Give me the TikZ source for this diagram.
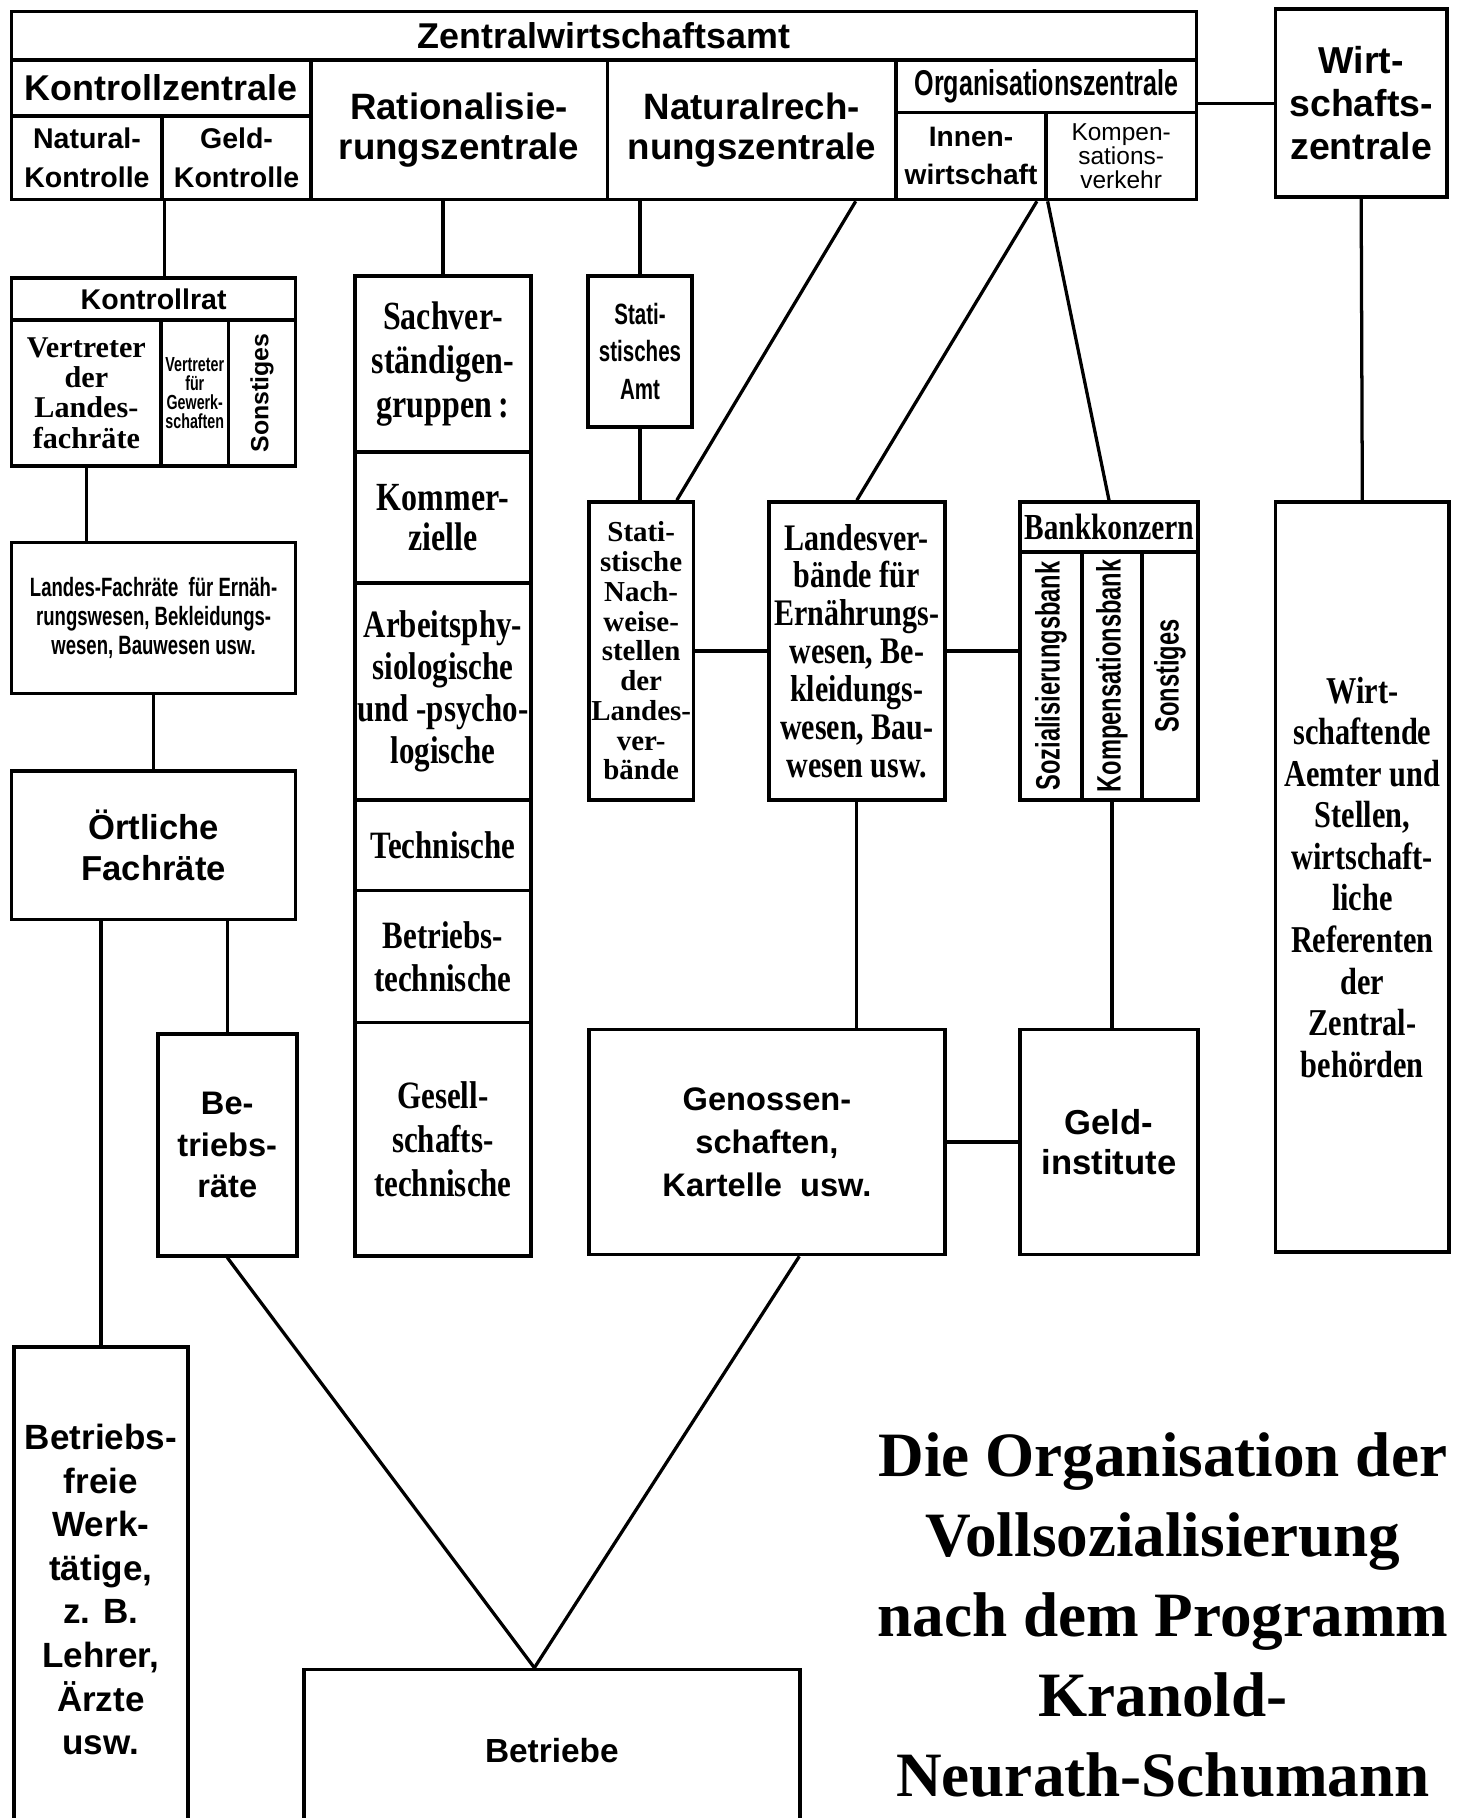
\documentclass[tikz,border=0pt]{standalone}
\usepackage{fontspec}
\usepackage{graphicx}
\setmainfont{Liberation Serif}
\newfontfamily\grot{Liberation Sans}
\newfontfamily\narrow[FakeStretch=0.7]{Liberation Sans}
\newfontfamily\serifc[FakeStretch=0.8]{Liberation Serif}
\usetikzlibrary{calc, positioning}
\newcommand{\setfs}[2]{\fontsize{#1}{#2}\selectfont}
\tikzset{
  cell/.style={draw, line width=0.9pt, inner sep=0pt, align=center},
  sz/.style 2 args={minimum width=#1mm, minimum height=#2mm},
  link/.style={line width=0.8pt},
  gr/.style 2 args={font=\grot\bfseries\setfs{#1}{#2}},
  nr/.style 2 args={font=\narrow\bfseries\setfs{#1}{#2}},
  sr/.style 2 args={font=\serifc\bfseries\setfs{#1}{#2}},
}

\begin{document}
\begin{tikzpicture}[x=0.1mm, y=-0.1mm]
    \useasboundingbox (0,0) rectangle (1258,1568);
    \fill[white] (0,0) rectangle (1258,1568);

    % Zentralwirtschaftsamt
    \node[cell, sz={102.2}{4.2}, gr={8.8}{10}] (zwa) at (521,31) {Zentralwirtschaftsamt};
    \node[cell, sz={25.8}{4.8}, gr={8.8}{10}] (kz) at (139,76) {Kontrollzentrale};
    \node[cell, sz={13}{7.2}, gr={7}{9.4}] (natk) at (75,136) {Natural-\\Kontrolle};
    \node[cell, sz={12.8}{7.2}, gr={7}{9.4}] (geldk) at (204,136) {Geld-\\Kontrolle};
    \node[cell, sz={25.6}{12}, gr={9}{9.7}] (rat) at (396,112) {Rationalisie-\\rungszentrale};
    \node[cell, sz={24.9}{12}, gr={9}{9.7}] (nat) at (648.5,112) {Naturalrech-\\nungszentrale};
    \node[cell, sz={25.9}{4.5}, nr={8.8}{10}] (orgz) at (902.5,74.5) {Organisationszentrale};
    \node[cell, sz={12.9}{7.5}, gr={6.9}{9.3}] (innen) at (837.5,134.5) {Innen-\\wirtschaft};
    \node[cell, sz={13}{7.5}, font=\grot\setfs{6}{5.9}] (komp) at (967,134.5) {Kompen-\\sations-\\verkehr};
    \node[cell, sz={14.8}{16.2}, gr={9.2}{10.5}] (wz) at (1174,89) {Wirt-\\schafts-\\zentrale};

    % Kontrollrat und Fachraete
    \node[cell, sz={24.5}{3.6}, gr={7}{8}] (krat) at (132.5,258) {Kontrollrat};
    \node[cell, sz={12.9}{12.6}, font=\bfseries\setfs{7.4}{7.4}] (kr1) at (74.5,339) {Vertreter\\der\\Landes-\\fachräte};
    \node[cell, sz={5.8}{12.6}, nr={5}{4.6}] (kr2) at (168,339) {Vertreter\\für\\Gewerk-\\schaften};
    \node[cell, sz={5.8}{12.6}, gr={6.1}{7}] (kr3) at (226,339) {\rotatebox{90}{Sonstiges}};
    \node[cell, sz={24.5}{13}, nr={6.5}{7.1}] (lfr) at (132.5,533) {Landes-Fachräte\ \ für Ernäh-\\rungswesen, Bekleidungs-\\wesen, Bauwesen usw.};
    \node[cell, sz={24.5}{12.8}, gr={8.5}{10}] (ort) at (132.5,729) {Örtliche\\Fachräte};
    \node[cell, sz={12}{19.1}, gr={8}{10.2}] (br) at (196,987.5) {Be-\\triebs-\\räte};
    \node[cell, sz={15}{41.8}, gr={8.6}{10.7}] (bfw) at (87,1371) {Betriebs-\\freie\\Werk-\\tätige,\\z. B.\\Lehrer,\\Ärzte\\usw.};

    % Sachverstaendigengruppen
    \node[cell, sz={15.2}{15.2}, sr={9.8}{10.8}] (sv1) at (382,314) {Sachver-\\ständigen-\\gruppen\,:};
    \node[cell, sz={15.2}{11.3}, sr={9.8}{10}] (sv2) at (382,446.5) {Kommer-\\zielle};
    \node[cell, sz={15.2}{18.7}, sr={9.5}{10.3}] (sv3) at (382,596.5) {Arbeitsphy-\\siologische\\und -psycho-\\logische};
    \node[cell, sz={15.2}{7.8}, sr={9.5}{10.5}] (sv4) at (382,729) {Technische};
    \node[cell, sz={15.2}{11.4}, sr={9.5}{10.5}] (sv5) at (382,825) {Betriebs-\\technische};
    \node[cell, sz={15.2}{20.1}, sr={9.5}{10.7}] (sv6) at (382,982.5) {Gesell-\\schafts-\\technische};

    % Statistik, Landesverbaende, Banken
    \node[cell, sz={9}{13}, nr={7.2}{9.2}] (samt) at (552,303) {Stati-\\stisches\\Amt};
    \node[cell, sz={9}{25.7}, font=\bfseries\setfs{7.1}{7.3}] (snw) at (553,561.5) {Stati-\\stische\\Nach-\\weise-\\stellen\\der\\Landes-\\ver-\\bände};
    \node[cell, sz={15.2}{25.7}, sr={9.2}{9.3}] (lv) at (739,561.5) {Landesver-\\bände für\\Ernährungs-\\wesen, Be-\\kleidungs-\\wesen, Bau-\\wesen usw.};
    \node[cell, sz={15.3}{4.3}, sr={9}{10}] (bk) at (956.5,454.5) {Bankkonzern};
    \node[cell, sz={5.3}{21.4}, nr={8.3}{9}] (bk1) at (906.5,583) {\rotatebox{90}{Sozialisierungsbank}};
    \node[cell, sz={5.2}{21.4}, nr={8.3}{9}] (bk2) at (959,583) {\rotatebox{90}{Kompensationsbank}};
    \node[cell, sz={4.8}{21.4}, nr={8.3}{9}] (bk3) at (1009,583) {\rotatebox{90}{Sonstiges}};
    \node[cell, sz={30.7}{19.4}, gr={8}{10.5}] (gen) at (661.5,985) {Genossen-\\schaften,\\Kartelle\ \ usw.};
    \node[cell, sz={15.3}{19.4}, gr={8.5}{10}] (geld) at (956.5,985) {Geld-\\institute};
    \node[cell, sz={15}{64.7}, sr={9.3}{10.2}] (wae) at (1175,756.5) {Wirt-\\schaftende\\Aemter und\\Stellen,\\wirtschaft-\\liche\\Referenten\\der\\Zentral-\\behörden};
    \node[cell, sz={42.8}{14}, gr={8.2}{10}] (betr) at (476,1510) {Betriebe};

    \node[font=\bfseries\setfs{15.5}{19.6}, align=center] (titel) at (1003,1393) {Die Organisation der\\Vollsozialisierung\\nach dem Programm\\Kranold-\\Neurath-Schumann};

    % Verbindungen
    \draw[link] (wz.west -| zwa.east) -- (wz.west);
    \draw[link] (natk.south east) -- (natk.south east |- krat.north);
    \draw[link] (sv1.north |- rat.south) -- (sv1.north);
    \draw[link] (samt.north |- nat.south) -- (samt.north);
    \draw[link] ($(nat.south west)!0.855!(nat.south east)$) -- ($(snw.north west)!0.83!(snw.north east)$);
    \draw[link] ($(innen.south west)!0.93!(innen.south east)$) -- (lv.north);
    \draw[link] (innen.south east) -- (bk.north);
    \draw[link] (wz.south) -- (wae.north);
    \draw[link] (kr1.south) -- (kr1.south |- lfr.north);
    \draw[link] (lfr.south) -- (ort.north);
    \draw[link] (bfw.north |- ort.south) -- (bfw.north);
    \draw[link] (br.north |- ort.south) -- (br.north);
    \draw[link] (samt.south) -- (samt.south |- snw.north);
    \draw[link] (snw.east) -- (snw.east -| lv.west);
    \draw[link] (lv.east) -- (lv.east -| bk1.west);
    \draw[link] (lv.south) -- (lv.south |- gen.north);
    \draw[link] (bk2.south) -- (bk2.south |- geld.north);
    \draw[link] (gen.east) -- (gen.east -| geld.west);
    \coordinate (spitze) at ($(betr.north west)!0.465!(betr.north east)$);
    \draw[link] (br.south) -- (spitze);
    \draw[link] ($(gen.south west)!0.59!(gen.south east)$) -- (spitze);
\end{tikzpicture}
\end{document}
